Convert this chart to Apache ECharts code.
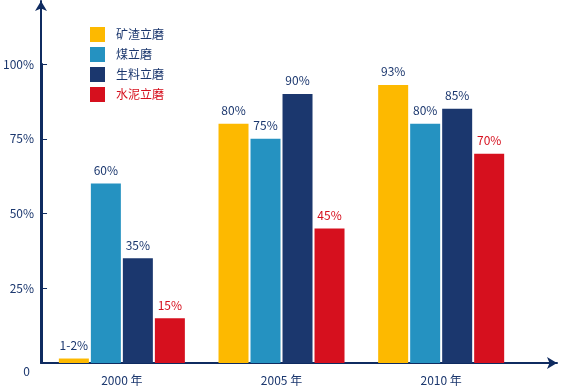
<!DOCTYPE html>
<html><head><meta charset="utf-8">
<script src="https://cdn.jsdelivr.net/npm/echarts@6/dist/echarts.min.js"></script>
<style>html,body{margin:0;padding:0;background:#fff}#c{width:566px;height:388px}</style>
</head><body><div id="c"></div>
<script>
const categories = ['2000 年', '2005 年', '2010 年'];
const seriesNames = ['矿渣立磨', '煤立磨', '生料立磨', '水泥立磨'];
const slagMill = [1.5, 80, 93];
const coalMill = [60, 75, 80];
const rawMill = [35, 90, 85];
const cementMill = [15, 45, 70];
const slagLabels = ['1-2%', '80%', '93%'];
const coalLabels = ['60%', '75%', '80%'];
const rawLabels = ['35%', '90%', '85%'];
const cementLabels = ['15%', '45%', '70%'];
const yTicks = [0, 25, 50, 75, 100];

const NAVY = '#1b376e', RED = '#d6101e', AXIS = '#0f2b60';
const colors = ['#fdb900', '#2592c1', '#1b376e', '#d6101e'];
const font = '"Noto Sans CJK SC", "Noto Sans", sans-serif';
const values = [slagMill, coalMill, rawMill, cementMill];
const labels = [slagLabels, coalLabels, rawLabels, cementLabels];

const chart = echarts.init(document.getElementById('c'), null, {renderer: 'canvas'});
chart.setOption({
  animation: false,
  textStyle: {fontFamily: font},
  legend: {
    orient: 'vertical', left: 85, top: 22, itemWidth: 15, itemHeight: 15, itemGap: 5,
    icon: 'rect',
    data: seriesNames.map((n, i) => ({name: n, textStyle: {color: i === 3 ? RED : NAVY}})),
    textStyle: {fontSize: 12, fontFamily: font, padding: [0, 0, 0, 6]}
  },
  grid: [
    {left: 41, right: 45, top: 64, bottom: 25, containLabel: false},
    {left: 41, right: 9, top: 1, bottom: 25, containLabel: false}
  ],
  xAxis: [
    {type: 'category', gridIndex: 0, data: categories,
     axisLine: {show: true, lineStyle: {color: AXIS, width: 2}},
     axisTick: {show: false},
     axisLabel: {color: NAVY, fontSize: 12, margin: 11, fontFamily: font}},
    {type: 'value', gridIndex: 1, min: 0, max: 1, show: true,
     axisLine: {show: true, onZero: false, symbol: ['none', 'arrow'], symbolSize: [9, 10], lineStyle: {color: AXIS, width: 2}},
     axisTick: {show: false}, axisLabel: {show: false}, splitLine: {show: false}}
  ],
  yAxis: [
    {type: 'value', gridIndex: 0, min: 0, max: 100, interval: 25,
     axisLine: {show: true, lineStyle: {color: AXIS, width: 2}},
     axisTick: {show: true, inside: true, length: 5, lineStyle: {color: AXIS, width: 1}},
     splitLine: {show: false},
     axisLabel: {color: NAVY, fontSize: 12, margin: 8, fontFamily: font,
       formatter: v => v === 0 ? '{z|0}' : v + '%',
       rich: {z: {fontSize: 12, color: NAVY, fontFamily: font, padding: [16, 4, 0, 0]}}}},
    {type: 'value', gridIndex: 1, min: 0, max: 1,
     axisLine: {show: true, onZero: false, symbol: ['none', 'arrow'], symbolSize: [9, 10], lineStyle: {color: AXIS, width: 2}},
     axisTick: {show: false}, axisLabel: {show: false}, splitLine: {show: false}}
  ],
  series: seriesNames.map((n, i) => ({
    name: n, type: 'bar', xAxisIndex: 0, yAxisIndex: 0,
    data: values[i], barWidth: 30, barGap: '6.67%',
    itemStyle: {color: colors[i]},
    label: {show: true, position: 'top', distance: 7, fontSize: 12, fontFamily: font,
      color: i === 3 ? RED : NAVY,
      formatter: p => labels[i][p.dataIndex]}
  }))
});
</script></body></html>
